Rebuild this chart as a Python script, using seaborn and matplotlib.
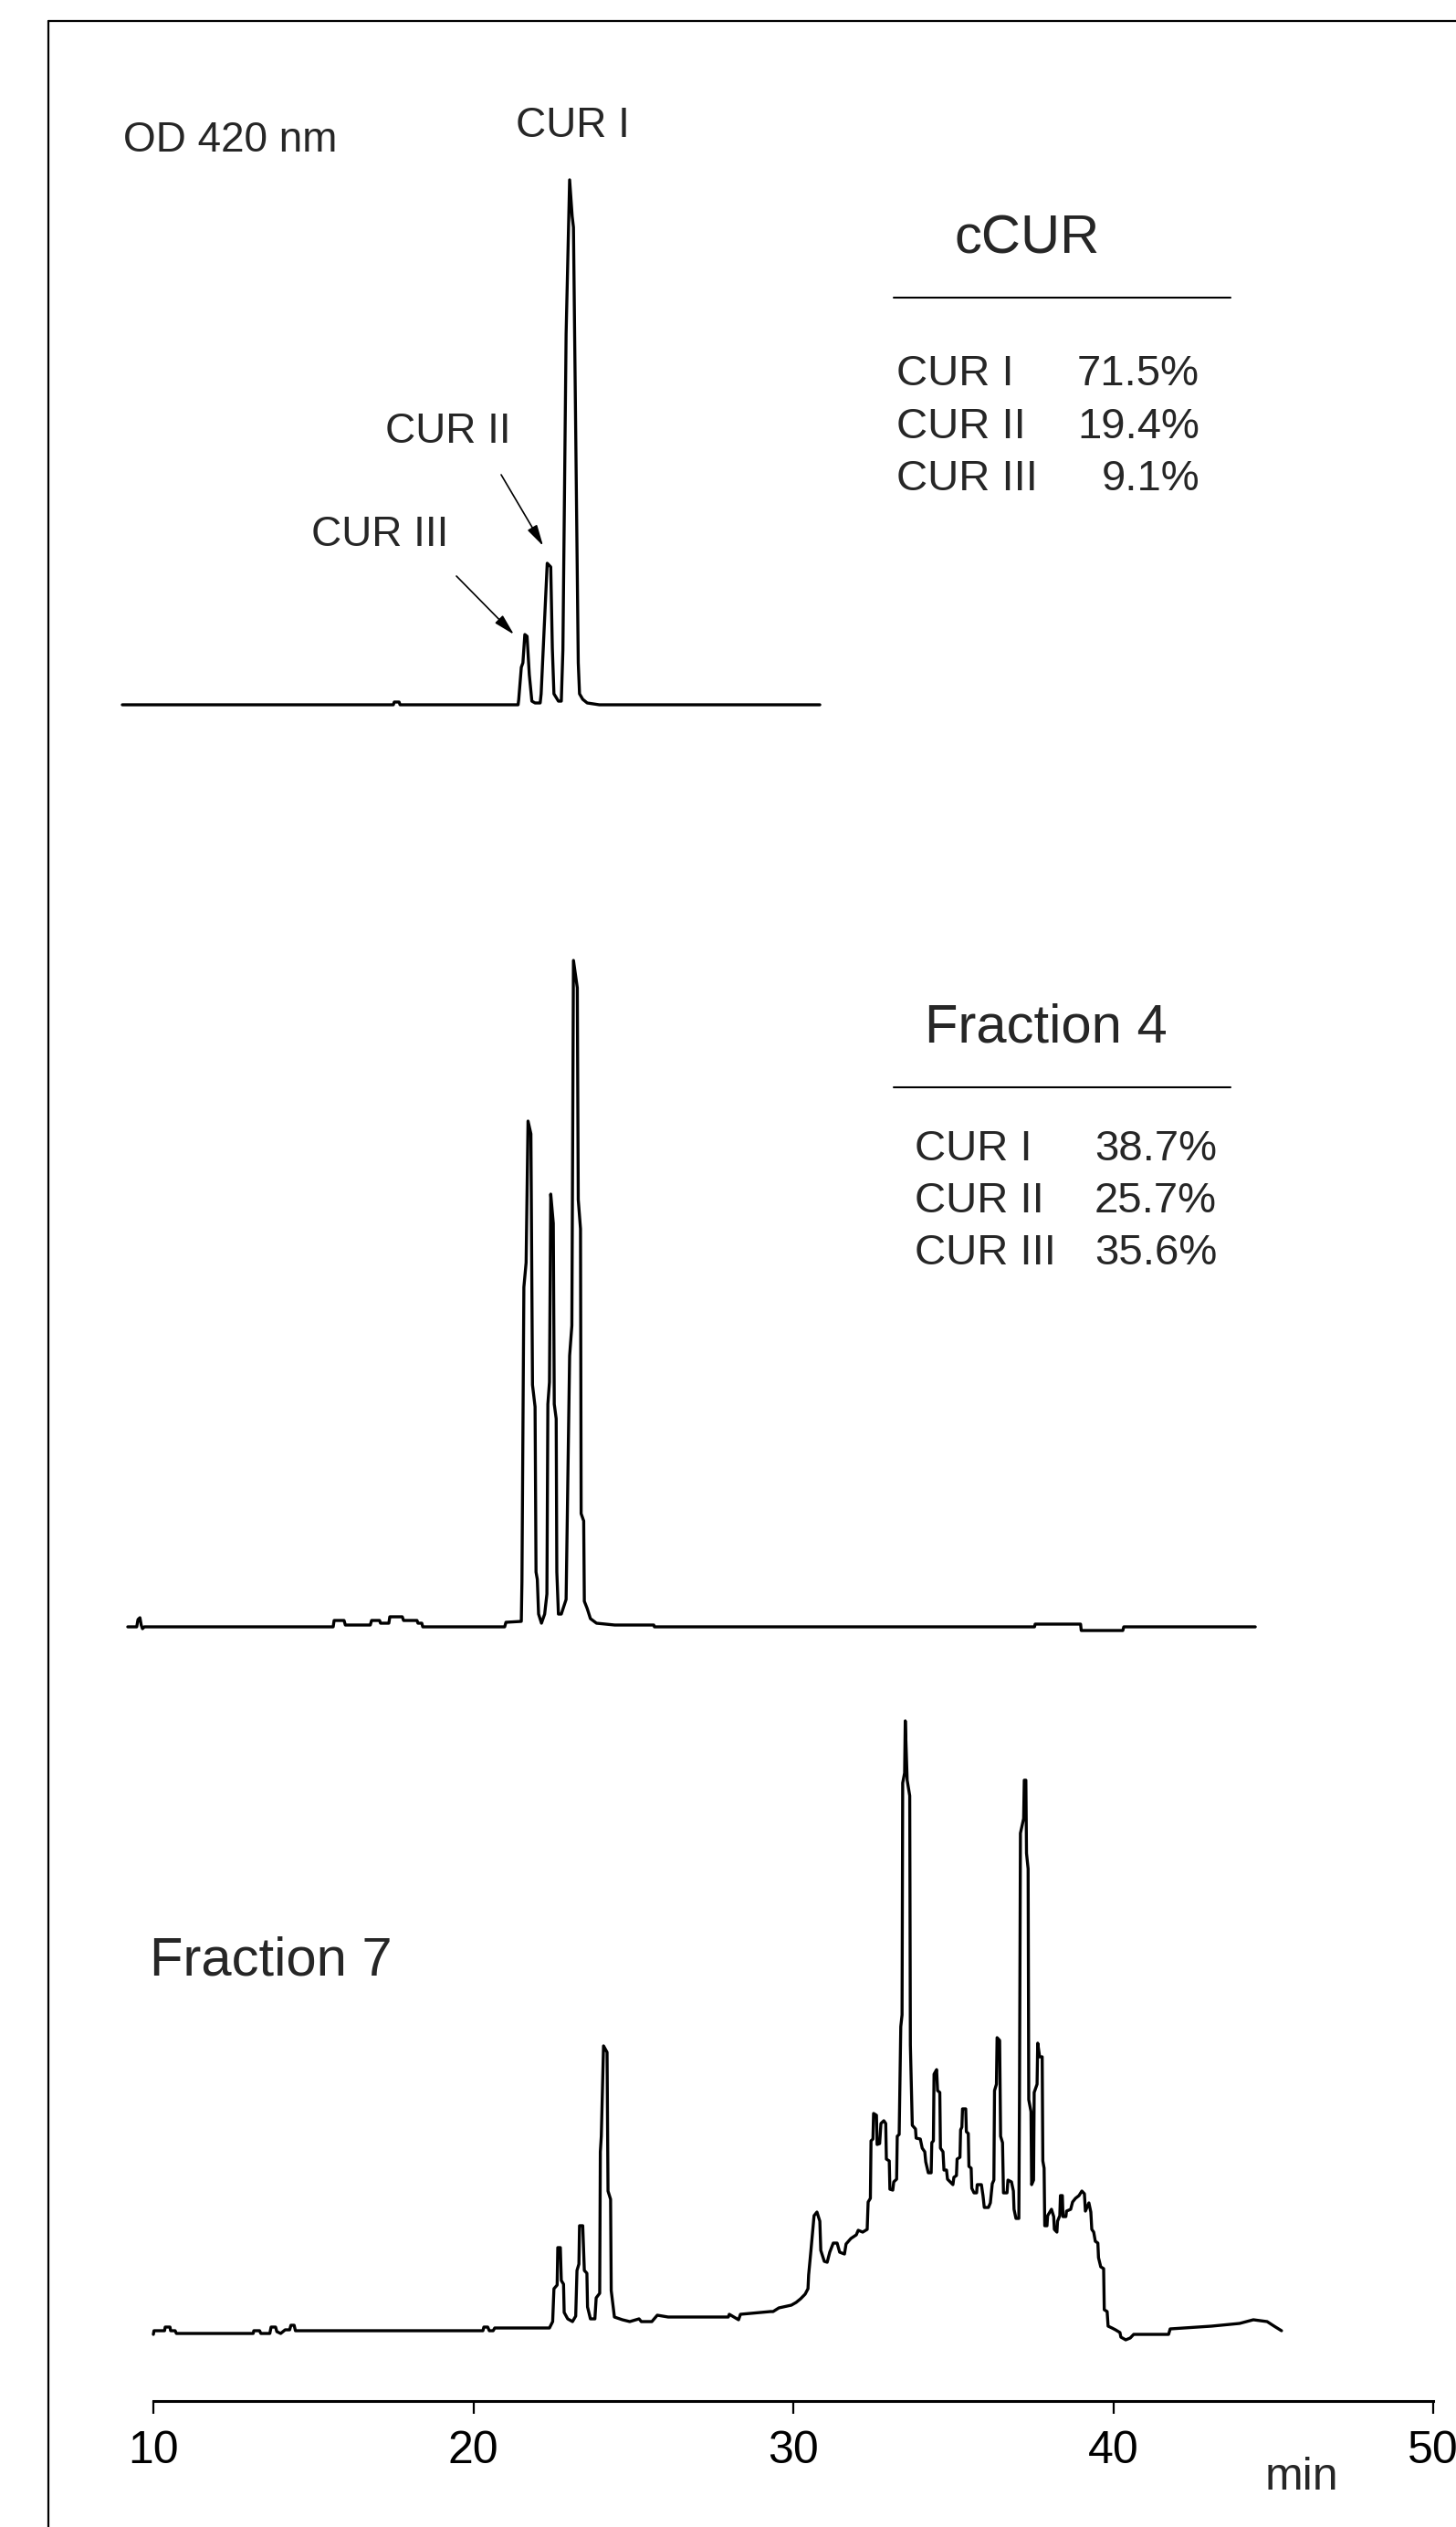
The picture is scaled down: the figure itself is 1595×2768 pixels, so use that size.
import numpy as np
import pandas as pd
import matplotlib
matplotlib.use("Agg")
import matplotlib.pyplot as plt
import seaborn as sns
from matplotlib.lines import Line2D

# ---- data (retention time in min, signal height in arbitrary units) ----
ccur_t = [9.03, 17.50, 17.53, 17.68, 17.71, 21.40, 21.42, 21.50, 21.55, 21.61,
          21.68, 21.75, 21.83, 21.93, 22.09, 22.12, 22.23, 22.31, 22.42, 22.47,
          22.52, 22.66, 22.75, 22.80, 22.90, 23.01, 23.09, 23.13, 23.28, 23.32,
          23.42, 23.56, 23.94, 30.83]
ccur_h = [0, 0, 3, 3, 0, 0, 6, 41, 46, 77,
          75, 33, 4, 2, 2, 12, 95, 155, 151, 62,
          12, 4, 4, 60, 406, 575, 535, 523, 46, 12,
          6, 2, 0, 0]

frac4_t = [9.20, 9.48, 9.52, 9.58, 9.62, 9.66, 9.72, 15.62, 15.65, 15.96,
           16.00, 16.78, 16.82, 17.07, 17.10, 17.36, 17.39, 17.78, 17.82, 18.24,
           18.27, 18.39, 18.42, 20.98, 21.02, 21.50, 21.52, 21.58, 21.65, 21.71,
           21.80, 21.85, 21.93, 21.96, 22.00, 22.04, 22.13, 22.23, 22.30, 22.33,
           22.38, 22.42, 22.50, 22.53, 22.59, 22.61, 22.66, 22.75, 22.90, 23.01,
           23.08, 23.13, 23.25, 23.28, 23.35, 23.37, 23.45, 23.47, 23.56, 23.66,
           23.85, 24.42, 25.64, 25.66, 37.54, 37.56, 38.98, 39.00, 40.30, 40.33,
           44.44]
frac4_h = [0, 0, 8, 10, 2, -2, 0, 0, 7, 7,
           2, 2, 7, 7, 4, 4, 11, 11, 7, 7,
           4, 4, 0, 0, 5, 6, 49, 372, 399, 554,
           540, 265, 241, 60, 52, 14, 4, 14, 36, 244,
           268, 474, 442, 244, 228, 60, 14, 14, 30, 297,
           330, 730, 700, 468, 436, 124, 116, 28, 20, 9,
           4, 2, 2, 0, 0, 3, 3, -4, -4, 0,
           0]

frac7_t = [10.00, 10.02, 10.35, 10.37, 10.52, 10.54, 10.68, 10.72, 13.12, 13.14,
           13.32, 13.36, 13.64, 13.68, 13.82, 13.86, 13.98, 14.12, 14.26, 14.30,
           14.40, 14.44, 20.30, 20.33, 20.45, 20.50, 20.62, 20.67, 22.38, 22.48,
           22.52, 22.62, 22.64, 22.72, 22.75, 22.82, 22.84, 22.95, 23.10, 23.20,
           23.24, 23.30, 23.32, 23.42, 23.47, 23.55, 23.57, 23.66, 23.80, 23.84,
           23.95, 23.97, 24.00, 24.07, 24.18, 24.21, 24.29, 24.31, 24.41, 24.66,
           24.89, 25.18, 25.25, 25.58, 25.75, 26.09, 27.97, 28.00, 28.29, 28.35,
           29.29, 29.37, 29.55, 29.94, 30.09, 30.23, 30.37, 30.46, 30.48, 30.55,
           30.65, 30.74, 30.83, 30.86, 30.97, 31.06, 31.14, 31.25, 31.37, 31.45,
           31.60, 31.65, 31.80, 31.97, 32.03, 32.17, 32.31, 32.34, 32.41, 32.43,
           32.49, 32.51, 32.60, 32.62, 32.70, 32.74, 32.83, 32.89, 32.91, 33.00,
           33.02, 33.11, 33.14, 33.23, 33.25, 33.31, 33.36, 33.40, 33.42, 33.48,
           33.50, 33.56, 33.64, 33.66, 33.72, 33.82, 33.84, 33.97, 34.03, 34.11,
           34.14, 34.22, 34.31, 34.33, 34.38, 34.40, 34.48, 34.51, 34.58, 34.60,
           34.68, 34.71, 34.79, 34.82, 34.99, 35.02, 35.10, 35.12, 35.21, 35.23,
           35.27, 35.29, 35.39, 35.41, 35.47, 35.49, 35.56, 35.58, 35.65, 35.73,
           35.75, 35.88, 35.93, 35.97, 36.10, 36.16, 36.22, 36.27, 36.29, 36.35,
           36.37, 36.45, 36.48, 36.54, 36.57, 36.68, 36.71, 36.82, 36.88, 36.90,
           36.96, 37.05, 37.07, 37.10, 37.20, 37.22, 37.27, 37.29, 37.34, 37.36,
           37.43, 37.45, 37.51, 37.53, 37.62, 37.64, 37.70, 37.78, 37.80, 37.84,
           37.86, 37.93, 37.95, 38.07, 38.14, 38.16, 38.24, 38.26, 38.33, 38.35,
           38.41, 38.43, 38.52, 38.54, 38.67, 38.73, 38.82, 38.93, 39.02, 39.10,
           39.13, 39.24, 39.30, 39.33, 39.39, 39.44, 39.52, 39.54, 39.61, 39.70,
           39.72, 39.81, 39.84, 39.96, 40.07, 40.21, 40.24, 40.39, 40.53, 40.64,
           41.73, 41.78, 43.07, 43.95, 44.38, 44.81, 45.03, 45.26]
frac7_h = [-1, 3, 3, 7, 7, 3, 3, 0, 0, 3,
           3, 0, 0, 7, 7, 2, 0, 4, 4, 9,
           9, 3, 3, 7, 7, 3, 3, 6, 6, 13,
           49, 53, 94, 94, 58, 54, 23, 16, 13, 19,
           69, 76, 118, 118, 69, 66, 29, 16, 16, 39,
           44, 199, 216, 315, 308, 156, 147, 47, 18, 15,
           13, 16, 13, 13, 20, 18, 18, 21, 15, 21,
           24, 24, 28, 31, 34, 38, 43, 49, 64, 90,
           129, 133, 123, 91, 79, 78, 89, 99, 99, 89,
           87, 98, 104, 108, 113, 111, 114, 144, 148, 211,
           213, 241, 239, 207, 208, 230, 233, 230, 191, 189,
           158, 157, 166, 169, 216, 218, 336, 349, 603, 614,
           671, 606, 589, 316, 228, 224, 214, 213, 203, 199,
           188, 176, 176, 209, 211, 284, 289, 266, 264, 203,
           199, 179, 179, 169, 163, 171, 173, 191, 193, 223,
           226, 246, 246, 221, 219, 183, 181, 159, 154, 154,
           163, 163, 151, 138, 138, 143, 164, 168, 266, 273,
           324, 321, 216, 209, 154, 154, 168, 166, 156, 136,
           126, 126, 256, 548, 564, 606, 606, 526, 509, 256,
           243, 163, 168, 264, 273, 318, 303, 303, 189, 181,
           118, 118, 129, 136, 128, 114, 111, 123, 129, 151,
           151, 128, 128, 134, 136, 144, 148, 151, 156, 153,
           134, 143, 133, 114, 111, 101, 99, 83, 73, 71,
           26, 24, 8, 6, 4, 1, -4, -7, -5, -1,
           -1, 5, 8, 11, 15, 13, 8, 3]

ccur_names = ["CUR I", "CUR II", "CUR III"]
ccur_pct = ["71.5%", "19.4%", "9.1%"]
frac4_pct = ["38.7%", "25.7%", "35.6%"]
x_ticks = [10, 20, 30, 40, 50]

assert len(ccur_t) == len(ccur_h)
assert len(frac4_t) == len(frac4_h)
assert len(frac7_t) == len(frac7_h)

# ---- figure ----
sns.set_style("white")
plt.rcParams['font.family'] = ['Liberation Sans', 'DejaVu Sans']

W, H = 1595, 2768
fig = plt.figure(figsize=(W / 100, H / 100), dpi=100)


def fx(x):
    return x / W


def fy(y):
    return 1 - y / H


# time axis: t=10 at 168 px, 35.05 px per min
xlim = (10 - 168 / 35.05, 10 + (W - 168) / 35.05)


def make_ax(top, bottom, base):
    ax = fig.add_axes([0, fy(bottom), 1, (bottom - top) / H])
    ax.set_xlim(*xlim)
    ax.set_ylim(-(bottom - base), base - top)
    ax.patch.set_alpha(0)
    return ax


ax1 = make_ax(150, 850, 772)
ax2 = make_ax(1000, 1850, 1782)
ax3 = make_ax(1850, 2630, 2556)

panels = [(ax1, ccur_t, ccur_h), (ax2, frac4_t, frac4_h), (ax3, frac7_t, frac7_h)]
for ax, t, h in panels:
    df = pd.DataFrame({"min": t, "signal": h})
    sns.lineplot(data=df, x="min", y="signal", estimator=None, sort=False,
                 color="black", linewidth=2.4, ax=ax)

for ax in (ax1, ax2):
    ax.axis("off")

for s in ["top", "left", "right"]:
    ax3.spines[s].set_visible(False)
ax3.spines["bottom"].set_bounds(10, 50)
ax3.spines["bottom"].set_linewidth(2.2)
ax3.spines["bottom"].set_color("black")
ax3.set_yticks([])
ax3.set_xticks(x_ticks)
ax3.set_xticklabels([str(v) for v in x_ticks])
ax3.tick_params(axis="x", direction="out", length=10, width=1.6, pad=13,
                labelsize=36, colors="black", bottom=True)
ax3.set_xlabel("")
ax3.set_ylabel("")

# frame lines
fig.add_artist(Line2D([fx(53), fx(53)], [fy(23), 0], color="black", lw=1.6))
fig.add_artist(Line2D([fx(53), 1], [fy(23), fy(23)], color="black", lw=1.6))

# labels top panel
fig.text(fx(135), fy(166), "OD 420 nm", fontsize=33, va="baseline", ha="left")
fig.text(fx(565), fy(150), "CUR I", fontsize=33, va="baseline", ha="left")
fig.text(fx(422), fy(485), "CUR II", fontsize=33, va="baseline", ha="left")
fig.text(fx(341), fy(598), "CUR III", fontsize=33, va="baseline", ha="left")

arrow_style = dict(arrowstyle="-|>,head_length=0.7,head_width=0.18", lw=1.2,
                   color="black", mutation_scale=20, shrinkA=0, shrinkB=0)
fig.add_artist(plt.Annotation("", xy=(fx(595), fy(598)), xytext=(fx(549), fy(520)),
                              xycoords="figure fraction", arrowprops=arrow_style))
fig.add_artist(plt.Annotation("", xy=(fx(563), fy(695)), xytext=(fx(500), fy(631)),
                              xycoords="figure fraction", arrowprops=arrow_style))

# cCUR composition box
fig.text(fx(1045), fy(277), "cCUR", fontsize=43, va="baseline", ha="left")
fig.add_artist(Line2D([fx(979), fx(1348)], [fy(326), fy(326)], color="black", lw=1.5))
for i, (name, pct) in enumerate(zip(ccur_names, ccur_pct)):
    yb = 422 + i * 57.5
    fig.text(fx(982), fy(yb), name, fontsize=34, va="baseline", ha="left")
    fig.text(fx(1314), fy(yb), pct, fontsize=34, va="baseline", ha="right")

# Fraction 4 composition box
fig.text(fx(1013), fy(1141), "Fraction 4", fontsize=43, va="baseline", ha="left")
fig.add_artist(Line2D([fx(979), fx(1348)], [fy(1191), fy(1191)], color="black", lw=1.5))
for i, (name, pct) in enumerate(zip(ccur_names, frac4_pct)):
    yb = 1271 + i * 57
    fig.text(fx(1002), fy(yb), name, fontsize=34, va="baseline", ha="left")
    fig.text(fx(1333), fy(yb), pct, fontsize=34, va="baseline", ha="right")

# Fraction 7 label and axis unit
fig.text(fx(164), fy(2163), "Fraction 7", fontsize=43, va="baseline", ha="left")
fig.text(fx(1426), fy(2727), "min", fontsize=36, va="baseline", ha="center")

fig.savefig("out.png", dpi=100)
